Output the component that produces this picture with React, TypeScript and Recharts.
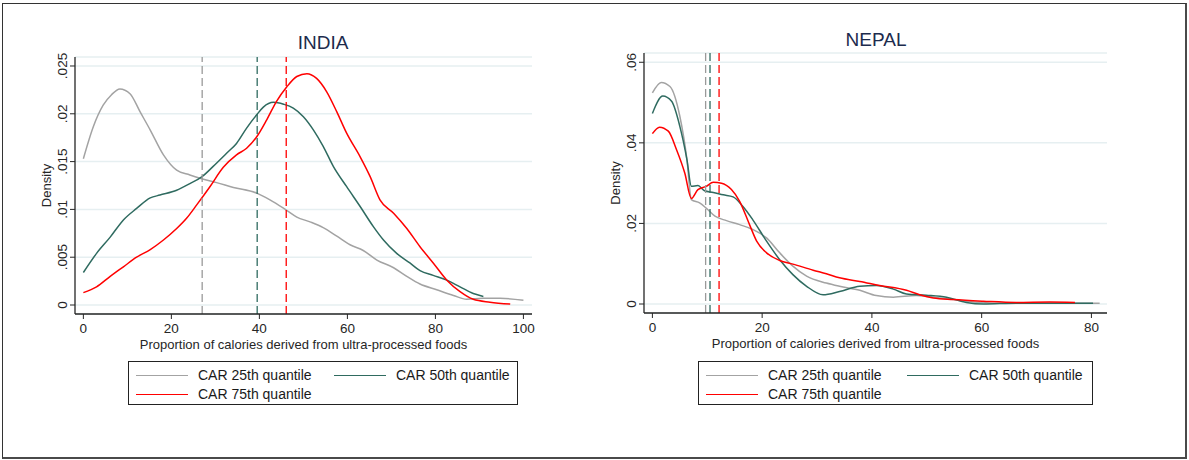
import {
  CartesianGrid,
  Line,
  LineChart,
  ReferenceLine,
  XAxis,
  YAxis,
} from "recharts";

const FONT = "'Liberation Sans', Arial, sans-serif";
const GRAY = "#a3a3a3";
const TEAL = "#2f6b60";
const RED = "#ff0000";
const AXIS = "#262626";

const seriesNames = ["CAR 25th quantile", "CAR 50th quantile", "CAR 75th quantile"];
const seriesColors = [GRAY, TEAL, RED];

// INDIA — kernel densities, [x, density]
const indiaQ25: [number, number][] = [
  [0, 0.0153], [2.3, 0.0187], [4.5, 0.0209], [6.4, 0.022], [8.3, 0.0226], [10.6, 0.0221],
  [12.9, 0.0202], [15.2, 0.0183], [18.2, 0.0157], [21.2, 0.0141], [24.2, 0.0136],
  [26.9, 0.0132], [30.3, 0.0128], [34.1, 0.0123], [39.4, 0.0117], [42.4, 0.011],
  [46.2, 0.0099], [48.5, 0.0092], [51.5, 0.0087], [54.5, 0.0081], [57.6, 0.0072],
  [60.6, 0.0063], [63.6, 0.0057], [66.7, 0.0047], [70.5, 0.0039], [73.5, 0.003],
  [76.5, 0.0022], [80.3, 0.0016], [84.1, 0.001], [87.1, 0.0006], [90.9, 0.0007],
  [94.7, 0.0007], [100, 0.0005],
];
const indiaQ50: [number, number][] = [
  [0, 0.0034], [3, 0.0054], [6.1, 0.0071], [9.1, 0.0089], [12.1, 0.0101], [15.2, 0.0112],
  [17.4, 0.0115], [21.2, 0.012], [24.2, 0.0127], [26.9, 0.0134], [29.5, 0.0145],
  [32.6, 0.0159], [34.8, 0.0169], [37.1, 0.0185], [39.4, 0.0199], [40.9, 0.0207],
  [43.2, 0.0212], [45.5, 0.021], [47.7, 0.0206], [50, 0.0197], [52.3, 0.0183],
  [54.5, 0.0166], [56.8, 0.0145], [59.8, 0.0124], [62.9, 0.0103], [65.9, 0.0082],
  [68.2, 0.0068], [71.2, 0.0054], [74.2, 0.0044], [76.5, 0.0036], [79.5, 0.0031],
  [82.6, 0.0026], [85.6, 0.0019], [88.6, 0.0012], [90.9, 0.0009],
];
const indiaQ75: [number, number][] = [
  [0, 0.0013], [3, 0.0019], [6.1, 0.003], [9.1, 0.004], [12.1, 0.005], [15.2, 0.0058],
  [18.2, 0.0068], [21.2, 0.008], [23.5, 0.0091], [25.8, 0.0105], [28.8, 0.0124],
  [31.8, 0.0144], [34.8, 0.0157], [37.1, 0.0164], [39.4, 0.0176], [41.7, 0.0194],
  [43.9, 0.0213], [46.2, 0.0228], [48.5, 0.0239], [50.8, 0.0242], [53, 0.0237],
  [55.3, 0.0223], [57.6, 0.0202], [59.8, 0.018], [62.9, 0.0155], [65.2, 0.0134],
  [67.4, 0.011], [70.5, 0.0096], [73.5, 0.008], [76.5, 0.0061], [79.5, 0.0044],
  [82.6, 0.0026], [85.6, 0.0014], [88.6, 0.0006], [92.4, 0.0003], [97, 0.0001],
];
const indiaMedians = [27, 39.5, 46.1];
const indiaXTicks = [0, 20, 40, 60, 80, 100];
const indiaYTicks = [0, 0.005, 0.01, 0.015, 0.02, 0.025];

// NEPAL
const nepalQ25: [number, number][] = [
  [0, 0.0524], [1.6, 0.055], [3.2, 0.054], [5, 0.0466], [6.3, 0.0358], [7.1, 0.0259],
  [8.6, 0.0251], [9.8, 0.0238], [11.4, 0.0218], [13.5, 0.0207], [15.9, 0.0197],
  [18.3, 0.0185], [20.8, 0.0164], [23.2, 0.0127], [25.6, 0.0094], [28.1, 0.0069],
  [31.7, 0.0052], [34.1, 0.0044], [37.8, 0.0034], [40.8, 0.0021], [43.9, 0.0017],
  [48.1, 0.0021], [52.4, 0.0015], [57.2, 0.0007], [63.3, 0.0002], [69.4, 0.0002],
  [76.7, 0.0002], [81.5, 0.0002],
];
const nepalQ50: [number, number][] = [
  [0, 0.0473], [1.9, 0.0516], [3.5, 0.0503], [5, 0.0441], [6.3, 0.0358], [7.1, 0.0292],
  [8.3, 0.0294], [9.5, 0.0281], [11.1, 0.0277], [12.9, 0.0271], [14.7, 0.0266],
  [16.5, 0.0242], [18.3, 0.0209], [20.8, 0.0156], [23.2, 0.011], [25.6, 0.0073],
  [28.1, 0.0044], [31.1, 0.0023], [34.1, 0.0031], [37.8, 0.0044], [40.8, 0.0046],
  [43.9, 0.0037], [46.3, 0.0025], [49.9, 0.0022], [53.6, 0.0017], [57.2, 0.0004],
  [60.3, 0], [66.3, 0.0002], [72.4, 0.0002], [80.3, 0.0002],
];
const nepalQ75: [number, number][] = [
  [0, 0.0423], [1.3, 0.0439], [2.9, 0.0429], [4.4, 0.0383], [5.9, 0.0325], [7.1, 0.0262],
  [8.3, 0.0284], [9.8, 0.0292], [11.1, 0.0302], [12.6, 0.03], [14.4, 0.0284],
  [15.9, 0.0255], [17.7, 0.0197], [19, 0.0156], [20.8, 0.0127], [23.2, 0.0108],
  [25.6, 0.0099], [29.3, 0.0084], [31.7, 0.0075], [34.1, 0.0065], [37.8, 0.0056],
  [41.4, 0.0046], [46.3, 0.0034], [48.7, 0.0023], [51.2, 0.0015], [54.8, 0.0011],
  [60.3, 0.0007], [66.3, 0.0004], [72.4, 0.0005], [77, 0.0004],
];
const nepalMedians = [9.7, 10.5, 12.15];
const nepalXTicks = [0, 20, 40, 60, 80];
const nepalYTicks = [0, 0.02, 0.04, 0.06];

const toPoints = (pts: [number, number][]) => pts.map(([x, y]) => ({ x, y }));

// Stata-style density labels: ".025", "0"
const fmtDensity = (v: number) => (v === 0 ? "0" : String(+v.toFixed(4)).replace(/^0/, ""));

function RotatedTick(props: any) {
  const { x, y, payload } = props;
  return (
    <text
      x={x - 1}
      y={y}
      transform={`rotate(-90, ${x - 1}, ${y})`}
      textAnchor="middle"
      fontSize={13.5}
      fill={AXIS}
      fontFamily={FONT}
    >
      {fmtDensity(payload.value)}
    </text>
  );
}

function DensityPanel({
  series,
  medians,
  xTicks,
  yTicks,
  xDomain,
  yDomain,
  width,
  height,
  margin,
}: {
  series: [number, number][][];
  medians: number[];
  xTicks: number[];
  yTicks: number[];
  xDomain: [number, number];
  yDomain: [number, number];
  width: number;
  height: number;
  margin: { top: number; right: number; bottom: number; left: number };
}) {
  return (
    <LineChart width={width} height={height} margin={margin}>
      <CartesianGrid vertical={false} stroke="#e6eff1" strokeWidth={1.5} />
      <XAxis
        type="number"
        dataKey="x"
        domain={xDomain}
        ticks={xTicks}
        allowDataOverflow
        height={40}
        tickSize={5}
        tickMargin={4}
        axisLine={{ stroke: AXIS, strokeWidth: 1.3 }}
        tickLine={{ stroke: AXIS }}
        tick={{ fill: AXIS, fontSize: 13.5, fontFamily: FONT }}
        label={{
          value: "Proportion of calories derived from ultra-processed foods",
          position: "insideBottom",
          offset: 5,
          fill: AXIS,
          fontSize: 13,
          fontFamily: FONT,
        }}
      />
      <YAxis
        type="number"
        dataKey="y"
        domain={yDomain}
        ticks={yTicks}
        allowDataOverflow
        width={57}
        tickSize={5}
        axisLine={{ stroke: AXIS, strokeWidth: 1.3 }}
        tickLine={{ stroke: AXIS }}
        tick={<RotatedTick />}
        label={{
          value: "Density",
          angle: -90,
          position: "center",
          fill: AXIS,
          fontSize: 13,
          fontFamily: FONT,
        }}
      />
      {series.map((pts, i) => (
        <Line
          key={seriesNames[i]}
          data={toPoints(pts)}
          dataKey="y"
          type="monotone"
          stroke={seriesColors[i]}
          strokeWidth={1.5}
          dot={false}
          activeDot={false}
          isAnimationActive={false}
        />
      ))}
      {medians.map((m, i) => (
        <ReferenceLine
          key={i}
          x={m}
          stroke={seriesColors[i] === GRAY ? "#9a9a9a" : seriesColors[i]}
          strokeDasharray="8 4"
          strokeWidth={1.3}
        />
      ))}
    </LineChart>
  );
}

function LegendBox({ left, sample }: { left: number; sample: number[] }) {
  const rows = [
    [0, 1],
    [2],
  ];
  return (
    <div
      style={{
        position: "absolute",
        left,
        top: 361,
        width: sample[2],
        height: 44,
        border: "1px solid #222",
        boxSizing: "border-box",
        fontFamily: FONT,
        fontSize: 14,
        color: "#1a1a1a",
      }}
    >
      {rows.map((row, r) =>
        row.map((idx, c) => (
          <div
            key={idx}
            style={{
              position: "absolute",
              left: c === 0 ? sample[0] : sample[1],
              top: r === 0 ? 4 : 23,
              display: "flex",
              alignItems: "center",
              whiteSpace: "nowrap",
              height: 18,
            }}
          >
            <span
              style={{
                display: "inline-block",
                width: 52,
                height: 0,
                borderTop: `1.5px solid ${seriesColors[idx]}`,
                marginRight: 10,
              }}
            />
            {seriesNames[idx]}
          </div>
        ))
      )}
    </div>
  );
}

export default function App() {
  return (
    <div
      style={{
        position: "absolute",
        left: 0,
        top: 0,
        width: 1189,
        height: 460,
        background: "#fff",
        fontFamily: FONT,
      }}
    >
      <div
        style={{
          position: "absolute",
          left: 2,
          top: 3,
          width: 1185,
          height: 456,
          borderTop: "1px solid #333",
          borderLeft: "1px solid #333",
          borderRight: "2px solid #4a4a4a",
          borderBottom: "2px solid #4a4a4a",
          boxSizing: "border-box",
        }}
      />
      <div style={{ position: "absolute", left: 0, top: 0 }}>
        <DensityPanel
          series={[indiaQ25, indiaQ50, indiaQ75]}
          medians={indiaMedians}
          xTicks={indiaXTicks}
          yTicks={indiaYTicks}
          xDomain={[-1.9, 101.95]}
          yDomain={[-0.00094, 0.02594]}
          width={600}
          height={360}
          margin={{ top: 57, right: 68, bottom: 6, left: 18 }}
        />
      </div>
      <div style={{ position: "absolute", left: 570, top: 0 }}>
        <DensityPanel
          series={[nepalQ25, nepalQ50, nepalQ75]}
          medians={nepalMedians}
          xTicks={nepalXTicks}
          yTicks={nepalYTicks}
          xDomain={[-1.53, 82.84]}
          yDomain={[-0.00223, 0.0623]}
          width={619}
          height={360}
          margin={{ top: 53, right: 82, bottom: 7, left: 17 }}
        />
      </div>
      <div
        style={{
          position: "absolute",
          left: 323,
          top: 43,
          transform: "translate(-50%, -50%)",
          fontSize: 19,
          color: "#1c2b4d",
        }}
      >
        INDIA
      </div>
      <div
        style={{
          position: "absolute",
          left: 876,
          top: 40,
          transform: "translate(-50%, -50%)",
          fontSize: 19,
          color: "#1c2b4d",
        }}
      >
        NEPAL
      </div>
      <LegendBox left={128} sample={[7, 205, 390]} />
      <LegendBox left={698} sample={[7, 208, 395]} />
    </div>
  );
}
